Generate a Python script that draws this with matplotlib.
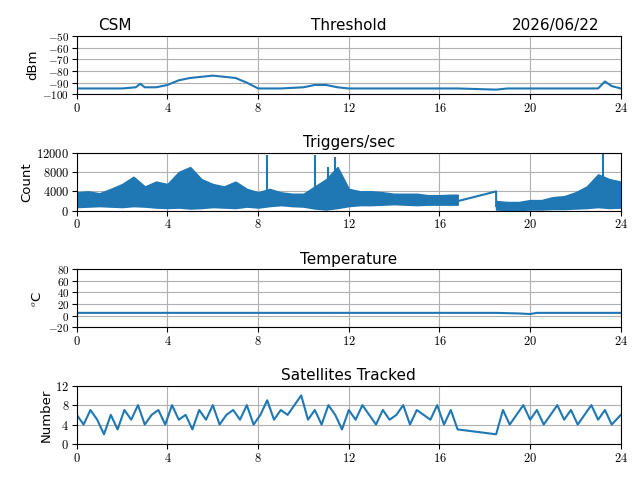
import matplotlib
matplotlib.use("Agg")
import matplotlib.pyplot as plt
import numpy as np

plt.rcParams['mathtext.fontset'] = 'cm'
plt.rcParams['font.family'] = ['DejaVu Sans']
plt.rcParams['xtick.labelsize'] = 9
plt.rcParams['ytick.labelsize'] = 9
plt.rcParams['axes.titlesize'] = 11
plt.rcParams['axes.labelsize'] = 9.5

date_label = "2026/06/22"
hours_ticks = [0, 4, 8, 12, 16, 20, 24]

# Threshold (dBm)
thr_t = [0, 1, 2, 2.6, 2.8, 3.0, 3.5, 4, 4.5, 5, 5.5, 6, 6.5, 7, 7.5, 7.8, 8, 9, 10, 10.5, 11, 11.5, 12, 13, 14, 15, 16, 16.8, 18.5, 19, 20, 21, 22, 23, 23.3, 23.6, 24]
thr_v = [-95, -95, -95, -94, -91, -94, -94, -92, -88, -86, -85, -84, -85, -86, -90, -93, -95, -95, -94, -92, -92, -94, -95, -95, -95, -95, -95, -95, -96, -95, -95, -95, -95, -95, -89, -93, -95]

# Triggers/sec envelope (low / high), half-hour steps
trg_t = [0, 0.5, 1, 1.5, 2, 2.5, 3, 3.5, 4, 4.5, 5, 5.5, 6, 6.5, 7, 7.5, 8, 8.5, 9, 9.5, 10, 10.5, 11, 11.5, 12, 12.5, 13, 13.5, 14, 14.5, 15, 15.5, 16, 16.5, 16.8]
trg_lo = [800, 900, 1000, 900, 800, 1000, 900, 700, 600, 700, 500, 600, 800, 700, 600, 900, 700, 1000, 1200, 1000, 900, 500, 300, 600, 1000, 1200, 1200, 1300, 1400, 1300, 1200, 1300, 1300, 1300, 1300]
trg_hi = [3800, 4000, 3600, 4500, 5500, 7000, 5000, 6000, 5500, 8000, 9000, 6500, 5500, 5000, 6000, 4500, 3800, 4500, 3800, 3500, 3500, 5000, 6500, 9000, 4500, 4000, 4000, 3800, 3500, 3500, 3500, 3200, 3200, 3300, 3300]
trg_t2 = [18.5, 19, 19.5, 20, 20.5, 21, 21.5, 22, 22.5, 23, 23.5, 24]
trg_lo2 = [300, 200, 200, 300, 300, 400, 400, 500, 600, 800, 600, 700]
trg_hi2 = [2000, 1800, 1800, 2200, 2200, 2800, 3000, 3800, 5000, 7500, 6500, 6000]
spk_t = [8.4, 10.5, 11.1, 11.4, 23.2]
spk_v = [11500, 11500, 9000, 11000, 12000]
gap_t = [16.8, 18.5, 18.5]
gap_v = [2000, 4000, 1000]

# Temperature
tmp_t = [0, 8, 16, 18.5, 19.5, 20, 20.3, 24]
tmp_v = [5, 5, 5, 5, 4, 3, 5, 5]

# Satellites
sat_t = [0, 0.3, 0.6, 0.9, 1.2, 1.5, 1.8, 2.1, 2.4, 2.7, 3.0, 3.3, 3.6, 3.9, 4.2, 4.5, 4.8, 5.1, 5.4, 5.7, 6.0, 6.3, 6.6, 6.9, 7.2, 7.5, 7.8, 8.1, 8.4, 8.7, 9.0, 9.3, 9.6, 9.9, 10.2, 10.5, 10.8, 11.1, 11.4, 11.7, 12.0, 12.3, 12.6, 12.9, 13.2, 13.5, 13.8, 14.1, 14.4, 14.7, 15.0, 15.3, 15.6, 15.9, 16.2, 16.5, 16.8, 18.5, 18.8, 19.1, 19.4, 19.7, 20.0, 20.3, 20.6, 20.9, 21.2, 21.5, 21.8, 22.1, 22.4, 22.7, 23.0, 23.3, 23.6, 24]
sat_v = [6, 4, 7, 5, 2, 6, 3, 7, 5, 8, 4, 6, 7, 4, 8, 5, 6, 3, 7, 5, 8, 4, 6, 7, 5, 8, 4, 6, 9, 5, 7, 6, 8, 10, 5, 7, 4, 8, 6, 3, 7, 5, 8, 6, 4, 7, 5, 6, 8, 4, 7, 6, 5, 8, 4, 7, 3, 2, 7, 4, 6, 8, 5, 7, 4, 6, 8, 5, 7, 4, 6, 8, 5, 7, 4, 6]

C = '#1f77b4'
fig, axs = plt.subplots(4, 1, figsize=(6.4, 4.8), dpi=100)
fig.subplots_adjust(left=0.12, right=0.97, top=0.925, bottom=0.075, hspace=1.0)

def style(ax, ylim, yticks, ylabel, title):
    ax.set_xlim(0, 24)
    ax.set_xticks(hours_ticks)
    ax.set_xticklabels([f'${h}$' for h in hours_ticks])
    ax.set_ylim(*ylim)
    ax.set_yticks(yticks)
    ax.set_yticklabels([f'${y}$' for y in yticks])
    ax.tick_params(pad=2)
    ax.set_ylabel(ylabel, labelpad=2)
    ax.set_title(title, pad=4)
    ax.grid(True, color='#b0b0b0')
    ax.set_axisbelow(True)

ax = axs[0]
ax.plot(thr_t, thr_v, color=C, lw=1.5)
style(ax, (-100, -50), [-100, -90, -80, -70, -60, -50], 'dBm', 'Threshold')
ax.tick_params(axis='y', labelsize=8)
ax.set_title('CSM', loc='left', pad=4, x=0.04)
ax.set_title(date_label, loc='right', pad=4, x=0.96)

ax = axs[1]
ax.fill_between(trg_t, trg_lo, trg_hi, color=C, lw=1.2)
ax.fill_between(trg_t2, trg_lo2, trg_hi2, color=C, lw=1.2)
ax.vlines(spk_t, 2000, spk_v, color=C, lw=1.5)
ax.plot(gap_t, gap_v, color=C, lw=1.5)
style(ax, (0, 12000), [0, 4000, 8000, 12000], 'Count', 'Triggers/sec')

ax = axs[2]
ax.plot(tmp_t, tmp_v, color=C, lw=1.5)
style(ax, (-20, 80), [-20, 0, 20, 40, 60, 80], r'$^o$C', 'Temperature')
ax.tick_params(axis='y', labelsize=8)

ax = axs[3]
ax.plot(sat_t, sat_v, color=C, lw=1.5)
style(ax, (0, 12), [0, 4, 8, 12], 'Number', 'Satellites Tracked')

fig.savefig('out.png', dpi=100)
